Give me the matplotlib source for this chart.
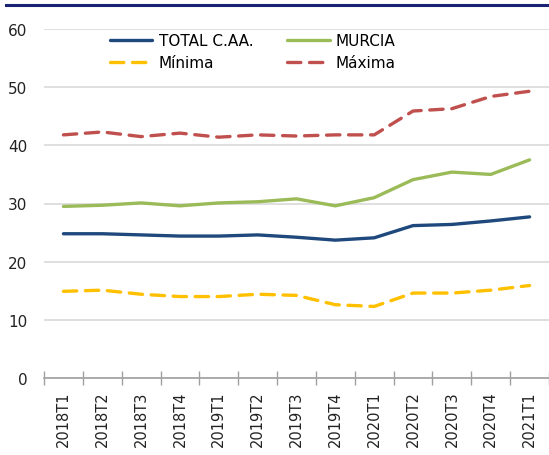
import matplotlib
matplotlib.use("Agg")
import matplotlib.pyplot as plt
import numpy as np

# --- Data ---
quarters = ["2018T1", "2018T2", "2018T3", "2018T4", "2019T1", "2019T2", "2019T3",
            "2019T4", "2020T1", "2020T2", "2020T3", "2020T4", "2021T1"]
total_caa = [24.8, 24.8, 24.6, 24.4, 24.4, 24.6, 24.2, 23.7, 24.1, 26.2, 26.4, 27.0, 27.7]
murcia = [29.5, 29.7, 30.1, 29.6, 30.1, 30.3, 30.8, 29.6, 31.0, 34.1, 35.4, 35.0, 37.5]
minima = [14.9, 15.1, 14.4, 14.0, 14.0, 14.4, 14.2, 12.6, 12.3, 14.6, 14.6, 15.1, 15.9]
maxima = [41.8, 42.3, 41.5, 42.1, 41.4, 41.8, 41.6, 41.8, 41.8, 45.9, 46.3, 48.4, 49.3]

fig = plt.figure(figsize=(5.49, 4.56), dpi=100)
ax = fig.add_axes([44 / 549, 1 - 379 / 456, 505 / 549, 349 / 456])

x = np.arange(len(quarters))
lw = 2.4
l_tot, = ax.plot(x, total_caa, color="#1f497d", lw=lw, solid_capstyle="round", label="TOTAL C.AA.")
l_mur, = ax.plot(x, murcia, color="#9bbb59", lw=lw, solid_capstyle="round", label="MURCIA")
l_min, = ax.plot(x, minima, color="#ffc000", lw=lw, dashes=(4.0, 2.6), dash_capstyle="round", label="Mínima")
l_max, = ax.plot(x, maxima, color="#c0504d", lw=lw, dashes=(4.0, 2.6), dash_capstyle="round", label="Máxima")

ax.set_ylim(0, 60)
ax.set_xlim(-0.5, len(quarters) - 0.5)
ax.set_yticks(range(0, 61, 10))
ax.yaxis.grid(True, color="#d9d9d9", lw=1.2)
ax.set_axisbelow(True)
ax.tick_params(axis="y", length=0, labelsize=11, pad=12, colors="#222222")

ax.set_xticks(x)
ax.set_xticklabels(quarters, rotation=90, fontsize=10.5)
ax.set_xticks(np.arange(-0.5, len(quarters), 1), minor=True)
ax.tick_params(axis="x", which="major", length=0, pad=9, colors="#222222")
ax.tick_params(axis="x", which="minor", length=10, direction="inout", color="#a0a0a0", width=1)

for s in ["top", "right", "left"]:
    ax.spines[s].set_visible(False)
ax.spines["bottom"].set_color("#a0a0a0")
ax.spines["bottom"].set_linewidth(1.2)

# column-first fill: put TOTAL/MURCIA on the first row
ax.legend([l_tot, l_min, l_mur, l_max], ["TOTAL C.AA.", "Mínima", "MURCIA", "Máxima"],
          ncol=2, loc="upper left", bbox_to_anchor=(0.118, 1.005), frameon=False,
          fontsize=11, handlelength=2.8, columnspacing=2.2, handletextpad=0.4,
          labelspacing=0.45, borderaxespad=0)

# navy rule across the top
fig.add_artist(plt.Line2D([6 / 549, 1], [1 - 6 / 456, 1 - 6 / 456], color="#1a2373", lw=2.2))

plt.savefig("out.png", dpi=100)
